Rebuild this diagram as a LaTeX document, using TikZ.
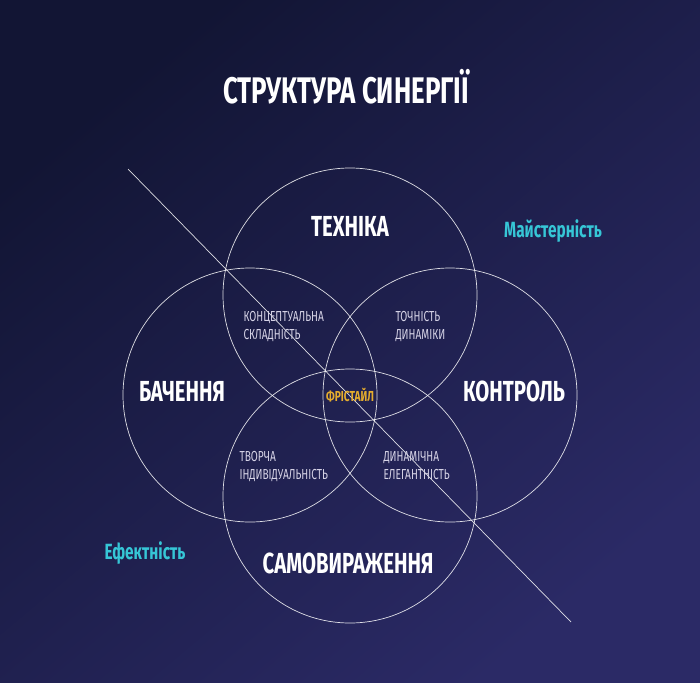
\documentclass[tikz,border=0pt]{standalone}
\usepackage{fontspec}
\setmainfont{Fira Sans}[FakeStretch=0.70]
\usepackage{tikz}

\definecolor{bgdark}{HTML}{121534}
\definecolor{bgmid}{HTML}{2C2A6A}
\definecolor{bglight}{HTML}{2B2A66}
\definecolor{pale}{HTML}{D6D3E6}
\definecolor{gold}{HTML}{E6AD2E}
\definecolor{aqua}{HTML}{36C6D6}

\begin{document}
\begin{tikzpicture}[x=1pt, y=-1pt,
        ring/.style={shape=circle, draw=white, draw opacity=0.85, line width=0.7pt, minimum size=254pt, inner sep=0pt},
        biglabel/.style={text=white, font=\bfseries\fontsize{29}{31}\selectfont},
        smalllabel/.style={text=pale, align=left, anchor=west, font=\fontsize{14.5}{18}\selectfont},
        aqualabel/.style={text=aqua, font=\bfseries\fontsize{22}{24}\selectfont}]
        % background
        \shade[top color=bgdark, middle color=bgmid, bottom color=bglight, shading angle=40] (0,0) rectangle (700,682);
        \useasboundingbox (0,0) rectangle (700,682);

        \node[text=white, font=\bfseries\fontsize{37}{40}\selectfont] (title) at (346, 87) {СТРУКТУРА СИНЕРГІЇ};

        % four circles
        \node[ring] (T) at (350, 295) {};
        \node[ring] (B) at (250, 395) {};
        \node[ring] (K) at (450, 395) {};
        \node[ring] (S) at (350, 496) {};

        % diagonal
        \coordinate (D1) at (128, 169);
        \coordinate (D2) at (571, 622);
        \draw[white, opacity=0.85, line width=0.7pt] (D1) -- (D2);

        \node[biglabel] (tech) at (350, 226) {ТЕХНІКА};
        \node[biglabel] (bach) at (182, 391) {БАЧЕННЯ};
        \node[biglabel] (kontr) at (514, 391) {КОНТРОЛЬ};
        \node[biglabel] (samo) at (348, 563) {САМОВИРАЖЕННЯ};

        \node[smalllabel] (konc) at (240, 327) {КОНЦЕПТУАЛЬНА\\СКЛАДНІСТЬ};
        \node[smalllabel] (toch) at (392, 327) {ТОЧНІСТЬ\\ДИНАМІКИ};
        \node[smalllabel] (tvor) at (236, 466) {ТВОРЧА\\ІНДИВІДУАЛЬНІСТЬ};
        \node[smalllabel] (dyn) at (380, 466) {ДИНАМІЧНА\\ЕЛЕГАНТНІСТЬ};

        \node[text=gold, font=\bfseries\fontsize{14.5}{16}\selectfont] (free) at (350, 395) {ФРІСТАЙЛ};

        \node[aqualabel] (maist) at (553, 231) {Майстерність};
        \node[aqualabel] (efekt) at (145, 553) {Ефектність};
    \end{tikzpicture}
\end{document}
